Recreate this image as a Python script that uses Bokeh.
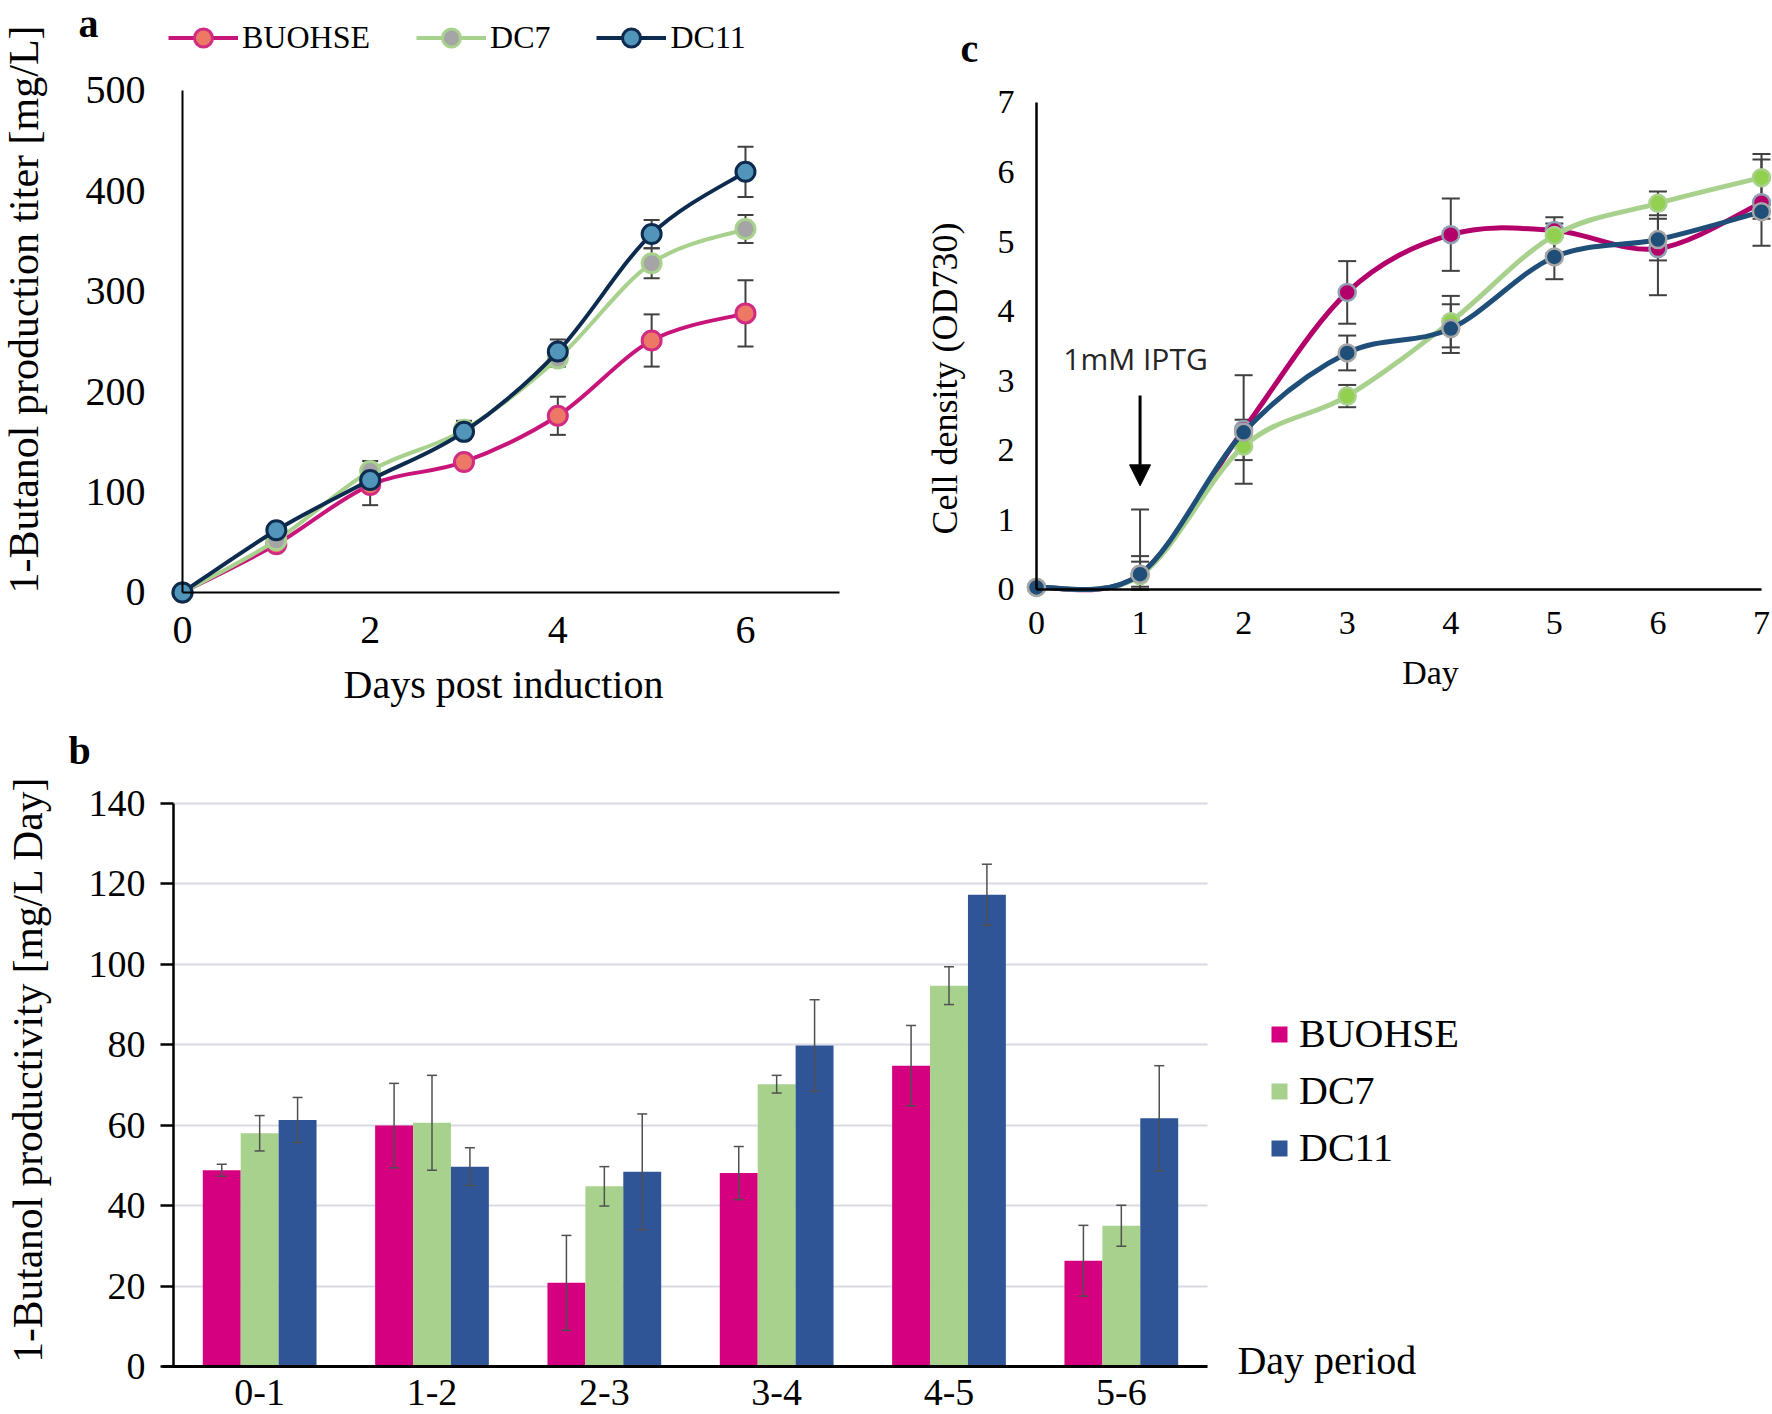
import numpy as np
from bokeh.plotting import figure
from bokeh.models import (ColumnDataSource, Range1d, FixedTicker, Label,
                          Legend, LegendItem, Whisker, TeeHead, Arrow, NormalHead)
from bokeh.layouts import row, column
from bokeh.transform import dodge
from bokeh.embed import file_html
from bokeh.resources import INLINE

SERIF = "Liberation Serif"
strains = ["BUOHSE", "DC7", "DC11"]

# ---------------- Panel a : titer ----------------
days_a = [0, 1, 2, 3, 4, 5, 6]
titer_buohse = [0, 48, 107, 130, 176, 251, 278]
titer_dc7 = [0, 52, 121, 162, 233, 328, 362]
titer_dc11 = [0, 62, 112, 160, 240, 357, 419]
titer_err_buohse = [0, 3, 20, 3, 19, 26, 33]
titer_err_dc7 = [0, 3, 10, 9, 8, 15, 14]
titer_err_dc11 = [0, 3, 5, 6, 12, 14, 25]
ticks_a_x = [0, 2, 4, 6]
ticks_a_y = [0, 100, 200, 300, 400, 500]

# ---------------- Panel c : cell density ----------------
days_c = [0, 1, 2, 3, 4, 5, 6, 7]
od_buohse = [0.03, 0.22, 2.30, 4.27, 5.10, 5.16, 4.90, 5.56]
od_dc7 = [0.03, 0.20, 2.06, 2.78, 3.85, 5.09, 5.55, 5.92]
od_dc11 = [0.03, 0.22, 2.26, 3.40, 3.75, 4.78, 5.03, 5.43]
od_err_buohse = [0.02, 0.93, 0.78, 0.45, 0.52, 0.10, 0.67, 0.62]
od_err_dc7 = [0.02, 0.28, 0.20, 0.16, 0.37, 0.26, 0.17, 0.34]
od_err_dc11 = [0.02, 0.18, 0.18, 0.25, 0.35, 0.32, 0.30, 0.10]
ticks_c_y = [0, 1, 2, 3, 4, 5, 6, 7]

# ---------------- Panel b : productivity ----------------
periods = ["0-1", "1-2", "2-3", "3-4", "4-5", "5-6"]
prod_buohse = [48.8, 59.9, 20.8, 48.1, 74.8, 26.3]
prod_dc7 = [58.0, 60.6, 44.8, 70.2, 94.7, 35.0]
prod_dc11 = [61.3, 49.7, 48.4, 79.8, 117.3, 61.7]
prod_err_buohse = [1.5, 10.5, 11.8, 6.6, 10.0, 8.8]
prod_err_dc7 = [4.4, 11.8, 4.9, 2.2, 4.7, 5.1]
prod_err_dc11 = [5.6, 4.7, 14.4, 11.4, 7.6, 13.1]
ticks_b_y = [0, 20, 40, 60, 80, 100, 120, 140]


def bezier_source(xs, ys):
    """Catmull-Rom style control points for a smoothed curve through the data."""
    x = np.asarray(xs, float)
    y = np.asarray(ys, float)
    xp = np.concatenate([[x[0]], x, [x[-1]]])
    yp = np.concatenate([[y[0]], y, [y[-1]]])
    i = np.arange(len(x) - 1)
    return ColumnDataSource(dict(
        x0=x[:-1], y0=y[:-1], x1=x[1:], y1=y[1:],
        cx0=xp[i + 1] + (xp[i + 2] - xp[i]) / 6.0,
        cy0=yp[i + 1] + (yp[i + 2] - yp[i]) / 6.0,
        cx1=xp[i + 2] - (xp[i + 3] - xp[i + 1]) / 6.0,
        cy1=yp[i + 2] - (yp[i + 3] - yp[i + 1]) / 6.0,
    ))


def make_fig(w, h, xr, yr):
    p = figure(width=w, height=h, x_range=Range1d(*xr), y_range=Range1d(*yr),
               output_backend="svg", toolbar_location=None,
               min_border_left=0, min_border_right=0, min_border_top=0, min_border_bottom=0)
    p.outline_line_color = None
    p.background_fill_color = "white"
    p.border_fill_color = "white"
    p.xgrid.visible = False
    p.ygrid.visible = False
    return p


def style_axis(ax, size, standoff, lw, bounds, loc):
    ax.fixed_location = loc
    ax.bounds = bounds
    ax.axis_line_color = "black"
    ax.axis_line_width = lw
    ax.major_tick_line_color = None
    ax.minor_tick_line_color = None
    ax.major_label_text_font = SERIF
    ax.major_label_text_font_size = size
    ax.major_label_text_color = "black"
    ax.major_label_standoff = standoff


def add_whiskers(p, src, base, head, color, width, level):
    p.add_layout(Whisker(source=src, base=base, upper="hi", lower="lo",
                         line_color=color, line_width=width, level=level,
                         upper_head=TeeHead(size=head, line_color=color, line_width=width),
                         lower_head=TeeHead(size=head, line_color=color, line_width=width)))


def err_source(xs, ys, errs):
    ys = np.asarray(ys, float)
    errs = np.asarray(errs, float)
    # the axes start at 0, so the visible part of a bar stops there
    return ColumnDataSource(dict(x=xs, lo=np.maximum(ys - errs, 0.0), hi=ys + errs))


def text(p, x, y, s, size, align="left", angle=0.0, bold=False, font=SERIF, color="black"):
    p.add_layout(Label(x=x, y=y, text=s, text_font=font, text_font_size=size,
                       text_font_style="bold" if bold else "normal", text_align=align,
                       text_baseline="middle", angle=angle, text_color=color))


# ======================= Panel a =======================
pa = make_fig(878, 708, (-1.9397, 7.4177), (-115.54, 589.64))
style_axis(pa.xaxis, "40px", 19, 2, (0, 7), 0)
style_axis(pa.yaxis, "40px", 31, 2, (0, 500), 0)
pa.xaxis.ticker = FixedTicker(ticks=ticks_a_x)
pa.yaxis.ticker = FixedTicker(ticks=ticks_a_y)

a_series = [
    ("BUOHSE", titer_buohse, titer_err_buohse, "#C8157A", "#EE7866", "#D02C82"),
    ("DC7", titer_dc7, titer_err_dc7, "#A9D18E", "#A5A5A5", "#A9D18E"),
    ("DC11", titer_dc11, titer_err_dc11, "#0D2B4E", "#5196BA", "#0D2B4E"),
]
legend_a_items = []
for name, ys, errs, lc, fc, oc in a_series:
    add_whiskers(pa, err_source(days_a, ys, errs), "x", 16, "#404040", 2, "underlay")
    br = pa.bezier(x0="x0", y0="y0", x1="x1", y1="y1", cx0="cx0", cy0="cy0", cx1="cx1",
                   cy1="cy1", source=bezier_source(days_a, ys), line_color=lc, line_width=4)
    sr = pa.scatter(days_a, ys, size=19, fill_color=fc, line_color=oc, line_width=3)
    legend_a_items.append(LegendItem(label=name, renderers=[br, sr]))

legend_a = Legend(items=legend_a_items, location=(168, 648), orientation="horizontal",
                  glyph_width=70, glyph_height=45, label_height=20, label_standoff=4, spacing=46,
                  padding=0, margin=0, background_fill_alpha=0, border_line_alpha=0,
                  label_text_font=SERIF, label_text_font_size="32px", label_text_color="black")
pa.add_layout(legend_a)

text(pa, -1.108, 567.2, "a", "40px", bold=True)
text(pa, -1.684, 281.9, "1-Butanol production titer [mg/L]", "42px", align="center",
     angle=np.pi / 2)
text(pa, 3.421, -92.1, "Days post induction", "40px", align="center")

# ======================= Panel c =======================
pc = make_fig(894, 708, (-1.5255, 7.1063), (-1.7105, 8.466))
style_axis(pc.xaxis, "34px", 17, 2.5, (0, 7), 0)
style_axis(pc.yaxis, "34px", 16, 2.5, (0, 7), 0)
pc.xaxis.ticker = FixedTicker(ticks=days_c)
pc.yaxis.ticker = FixedTicker(ticks=ticks_c_y)

c_series = [
    ("BUOHSE", od_buohse, od_err_buohse, "#B3006B", "#B3006B", "#8FA0B3"),
    ("DC7", od_dc7, od_err_dc7, "#A9D18E", "#92D050", "#A9D18E"),
    ("DC11", od_dc11, od_err_dc11, "#1F4E79", "#1F4E79", "#A6A6A6"),
]
for name, ys, errs, lc, fc, oc in c_series:
    add_whiskers(pc, err_source(days_c, ys, errs), "x", 18, "#404040", 2, "underlay")
for name, ys, errs, lc, fc, oc in c_series:
    pc.bezier(x0="x0", y0="y0", x1="x1", y1="y1", cx0="cx0", cy0="cy0", cx1="cx1", cy1="cy1",
              source=bezier_source(days_c, ys), line_color=lc, line_width=5)
    pc.scatter(days_c, ys, size=17, fill_color=fc, line_color=oc, line_width=2.5)

pc.add_layout(Arrow(end=NormalHead(size=21, fill_color="black", line_color="black"),
                    x_start=1.0, y_start=2.79, x_end=1.0, y_end=1.49,
                    line_color="black", line_width=3))
text(pc, 0.956, 3.315, "1mM IPTG", "30px", align="center", font="Open Sans", color="#262626")
text(pc, -0.734, 7.769, "c", "40px", bold=True)
text(pc, -0.879, 3.033, "Cell density (OD730)", "36px", align="center", angle=np.pi / 2)
text(pc, 3.804, -1.200, "Day", "34px", align="center")

# ======================= Panel b =======================
pb = make_fig(1772, 706, (-1.0039, 9.2786), (-11.936, 163.62))
xc = np.arange(len(periods)) + 0.5
style_axis(pb.xaxis, "38px", 8, 3, (-0.064, 6), 0)
style_axis(pb.yaxis, "38px", 15, 2.5, (0, 140), 0)
pb.xaxis.ticker = FixedTicker(ticks=list(xc))
pb.xaxis.major_label_overrides = {float(v): s for v, s in zip(xc, periods)}
pb.yaxis.ticker = FixedTicker(ticks=ticks_b_y)
pb.yaxis.major_tick_line_color = "black"
pb.yaxis.major_tick_out = 13
pb.yaxis.major_tick_in = 0
pb.yaxis.major_tick_line_width = 2.5

g = pb.ygrid[0]
if "cross_bounds" in g.properties():
    g.visible = True
    g.cross_bounds = (0, 6)
    g.grid_line_color = "#D9D9E3"
    g.grid_line_width = 2
else:
    pb.segment(x0=0, x1=6, y0=ticks_b_y[1:], y1=ticks_b_y[1:], line_color="#D9D9E3",
               line_width=2, level="underlay")

src_b = ColumnDataSource(dict(xc=xc, period=periods, BUOHSE=prod_buohse, DC7=prod_dc7,
                              DC11=prod_dc11))
b_series = [
    ("BUOHSE", prod_buohse, prod_err_buohse, -0.22, "#D5007F"),
    ("DC7", prod_dc7, prod_err_dc7, 0.0, "#A9D18E"),
    ("DC11", prod_dc11, prod_err_dc11, 0.22, "#2F5597"),
]
legend_b_items = []
for name, ys, errs, off, col in b_series:
    r = pb.vbar(x=dodge("xc", off), top=name, width=0.22, source=src_b,
                fill_color=col, line_color=None)
    legend_b_items.append(LegendItem(label=name, renderers=[r]))
for name, ys, errs, off, col in b_series:
    add_whiskers(pb, err_source(xc, ys, errs), dodge("x", off), 10, "#505050", 1.5, "annotation")

legend_b = Legend(items=legend_b_items, location=(1269, 243), orientation="vertical",
                  glyph_width=20, glyph_height=20, label_height=20, label_standoff=10,
                  spacing=10, padding=0, margin=0, background_fill_alpha=0, border_line_alpha=0,
                  label_text_font=SERIF, label_text_font_size="40px", label_text_color="black")
pb.add_layout(legend_b)

text(pb, -0.609, 153.06, "b", "40px", bold=True)
text(pb, -0.847, 73.85, "1-Butanol productivity [mg/L Day]", "41.5px", align="center",
     angle=np.pi / 2)
text(pb, 6.174, 1.616, "Day period", "40px")

layout = column(row(pa, pc), pb)
open("out.html", "w").write(file_html(layout, INLINE))
